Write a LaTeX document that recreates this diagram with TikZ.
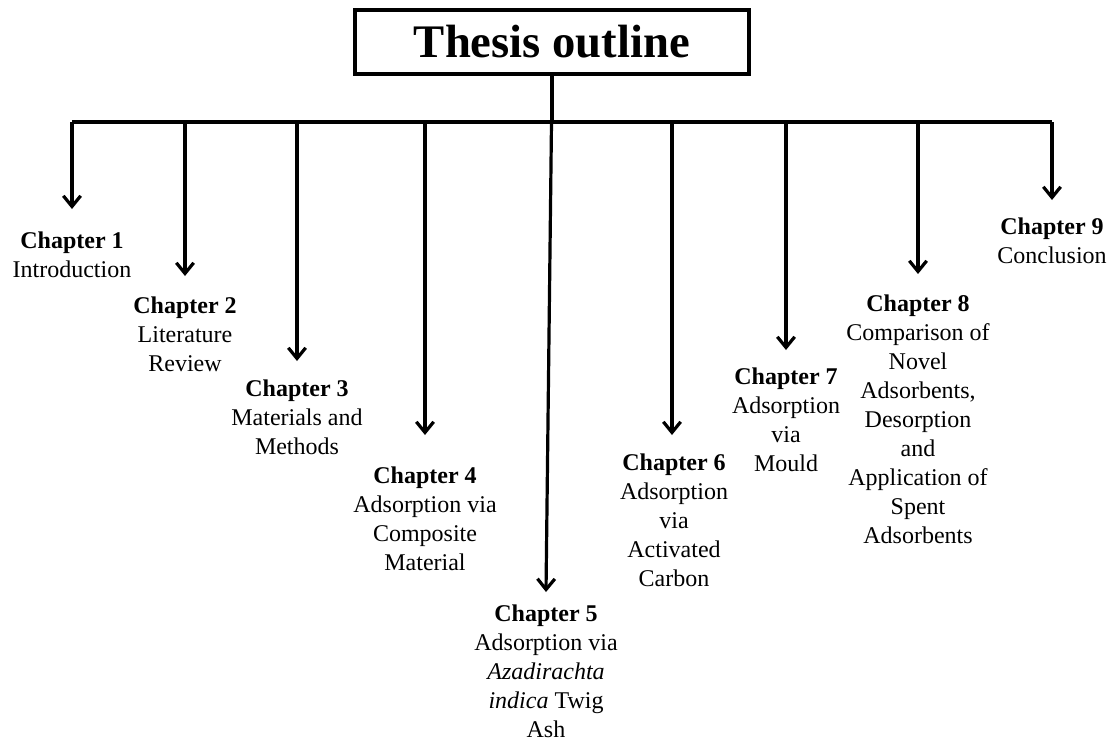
\documentclass[tikz,border=0pt]{standalone}
\usepackage{fontspec}
\setmainfont{Liberation Serif}
\usetikzlibrary{arrows.meta}
\begin{document}
\begin{tikzpicture}[x=0.75pt,y=-0.75pt,
  conn/.style={line width=2.4pt},
  arr/.style={conn,-{Straight Barb[length=8pt,width=13pt]}},
  chap/.style={align=center,anchor=north,inner sep=0pt,font=\fontsize{18}{21.75}\selectfont},
  titlebox/.style={draw,line width=3pt,minimum width=296pt,minimum height=48pt,inner sep=0pt,font=\fontsize{35}{40}\selectfont\bfseries}
]
\useasboundingbox (0,0) rectangle (1118,744);
\node[titlebox] (title) at (552,42) {Thesis outline};
% bar coordinates
\coordinate (j) at (552,122);
\coordinate (b1) at (72,122);
\coordinate (b2) at (185,122);
\coordinate (b3) at (297,122);
\coordinate (b4) at (425,122);
\coordinate (b5) at (551.5,122);
\coordinate (b6) at (672,122);
\coordinate (b7) at (786,122);
\coordinate (b8) at (918,122);
\coordinate (b9) at (1052,122);
% arrow tips
\coordinate (t1) at (72,209);
\coordinate (t2) at (185,276);
\coordinate (t3) at (297,361);
\coordinate (t4) at (425,435);
\coordinate (t5) at (546,592);
\coordinate (t6) at (672,435);
\coordinate (t7) at (786,350);
\coordinate (t8) at (918,274);
\coordinate (t9) at (1052,200);
% chapter texts
\node[chap] (c1) at (72,232) {\textbf{Chapter 1}\\Introduction};
\node[chap] (c2) at (185,297) {\textbf{Chapter 2}\\Literature\\Review};
\node[chap] (c3) at (297,380) {\textbf{Chapter 3}\\Materials and\\Methods};
\node[chap] (c4) at (425,467) {\textbf{Chapter 4}\\Adsorption via\\Composite\\Material};
\node[chap] (c5) at (546,605) {\textbf{Chapter 5}\\Adsorption via\\\textit{Azadirachta}\\\textit{indica} Twig\\Ash};
\node[chap] (c6) at (674,454) {\textbf{Chapter 6}\\Adsorption\\via\\Activated\\Carbon};
\node[chap] (c7) at (786,368) {\textbf{Chapter 7}\\Adsorption\\via\\Mould};
\node[chap] (c8) at (918,295) {\textbf{Chapter 8}\\Comparison of\\Novel\\Adsorbents,\\Desorption\\and\\Application of\\Spent\\Adsorbents};
\node[chap] (c9) at (1052,218) {\textbf{Chapter 9}\\Conclusion};
% connectors
\draw[conn] (title.south) -- (j);
\draw[conn] (b1) -- (b9);
\draw[arr] (b1) -- (t1);
\draw[arr] (b2) -- (t2);
\draw[arr] (b3) -- (t3);
\draw[arr] (b4) -- (t4);
\draw[arr] (b5) -- (t5);
\draw[arr] (b6) -- (t6);
\draw[arr] (b7) -- (t7);
\draw[arr] (b8) -- (t8);
\draw[arr] (b9) -- (t9);
\end{tikzpicture}
\end{document}
